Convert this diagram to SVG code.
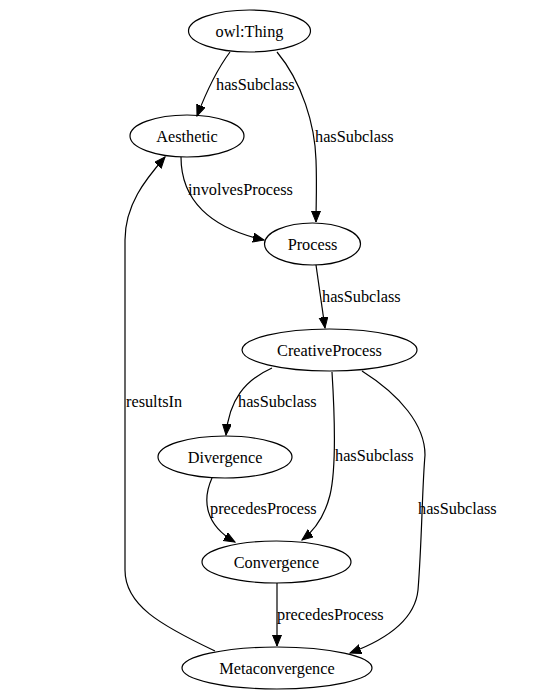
<svg xmlns="http://www.w3.org/2000/svg" width="560" height="700" viewBox="0 0 560 700" font-family="Liberation Serif, Times New Roman, serif" font-size="16.3">
<style>
text{font-family:'Liberation Serif','Times New Roman',Times,serif;font-size:16.3px;fill:#000}
.n ellipse{fill:none;stroke:#000;stroke-width:1.2}
.n text{text-anchor:middle}
.e path{fill:none;stroke:#000;stroke-width:1.2}
.a{marker-end:url(#ah)}
</style>
<defs>
<marker id="ah" markerWidth="12" markerHeight="10" refX="11" refY="4.5" orient="auto" markerUnits="userSpaceOnUse">
<polygon points="0,0 11,4.5 0,9" fill="#000" stroke="#000" stroke-width="1"/>
</marker>
</defs>
<rect width="560" height="700" fill="#fff"/>
<g id="edges" class="e">
<path class="a" d="M230,52 C218,68 207,90 197,116"/>
<path class="a" d="M277,52 C302,82 315,125 316,160 C317,185 316,205 316,222"/>
<path class="a" d="M181,157 C181,200 210,228 264,240"/>
<path class="a" d="M316,265 L325,328"/>
<path class="a" d="M272,368 C245,380 229,400 226,435"/>
<path class="a" d="M332,372 C335,420 336,470 330,495 C325,515 315,530 302,540"/>
<path class="a" d="M362,371 C400,395 425,425 425,455 C422,490 422,540 418,590 C415,620 385,640 350,653"/>
<path class="a" d="M212,478 C202,500 205,525 235,542"/>
<path class="a" d="M277,583 L277,646"/>
<path class="a" d="M215,651 C160,625 125,605 125,570 L125,240 C125,205 145,180 165,157"/>
<text x="216" y="90">hasSubclass</text>
<text x="315" y="142">hasSubclass</text>
<text x="188" y="195">involvesProcess</text>
<text x="322" y="302">hasSubclass</text>
<text x="238" y="407">hasSubclass</text>
<text x="126" y="407">resultsIn</text>
<text x="335" y="461">hasSubclass</text>
<text x="418" y="514">hasSubclass</text>
<text x="210" y="514">precedesProcess</text>
<text x="277" y="620">precedesProcess</text>
</g>
<g id="owlThing" class="n"><ellipse cx="249.5" cy="31" rx="61" ry="21"/><text x="249.5" y="37">owl:Thing</text></g>
<g id="Aesthetic" class="n"><ellipse cx="187" cy="136" rx="57" ry="21"/><text x="187" y="142">Aesthetic</text></g>
<g id="Process" class="n"><ellipse cx="312.5" cy="244" rx="48" ry="21"/><text x="312.5" y="250">Process</text></g>
<g id="CreativeProcess" class="n"><ellipse cx="329.5" cy="350" rx="87.5" ry="21"/><text x="329.5" y="356">CreativeProcess</text></g>
<g id="Divergence" class="n"><ellipse cx="225" cy="457" rx="67" ry="21"/><text x="225" y="463">Divergence</text></g>
<g id="Convergence" class="n"><ellipse cx="276.5" cy="562" rx="74.5" ry="21"/><text x="276.5" y="568">Convergence</text></g>
<g id="Metaconvergence" class="n"><ellipse cx="277" cy="668" rx="95" ry="21"/><text x="277" y="674">Metaconvergence</text></g>
</svg>
